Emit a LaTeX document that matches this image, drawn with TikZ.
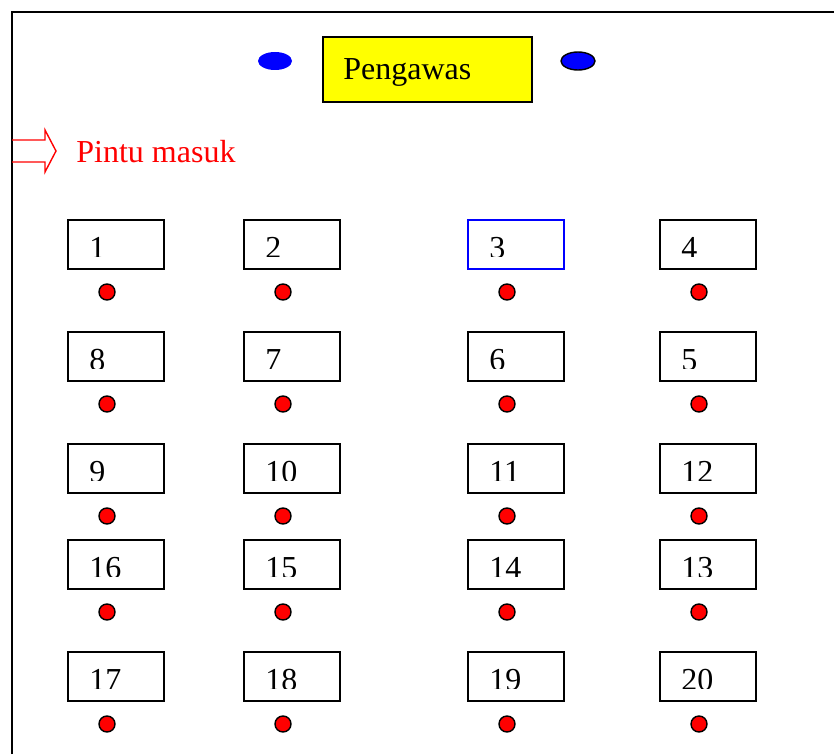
\documentclass[tikz,border=0pt]{standalone}
\usepackage{fontspec}
\setmainfont{Liberation Serif}
\usetikzlibrary{shapes.geometric}
\definecolor{pblue}{RGB}{0,0,255}
\definecolor{pred}{RGB}{255,0,0}
\definecolor{pyellow}{RGB}{255,255,0}
\tikzset{
  desk/.style={draw=black, line width=0.8pt, minimum width=48pt, minimum height=24.5pt, inner sep=0pt, anchor=north west},
  seat/.style={circle, draw=black, fill=pred, line width=0.7pt, minimum size=8pt, inner sep=0pt},
  num/.style={anchor=base west, inner sep=0pt, font=\fontsize{16}{19}\selectfont},
  lamp/.style={ellipse, fill=pblue, minimum width=17pt, minimum height=9pt, inner sep=0pt},
}
\begin{document}
\begin{tikzpicture}[x=0.5pt,y=-0.5pt]
\useasboundingbox (0,0) rectangle (834,754);
% border (top and left only)
\draw[line width=1pt] (12,754) -- (12,12) -- (834,12);
% supervisor
\node[lamp] (l1) at (275,61) {};
\node[lamp, draw=black, line width=0.7pt] (l2) at (578,61) {};
\node[draw=black, fill=pyellow, line width=0.8pt, minimum width=104.5pt, minimum height=32.5pt, inner sep=0pt, anchor=north west] (pg) at (322,36) {};
\node[num, anchor=base west] (pgt) at (343,80) {Pengawas};
% entrance
\draw[pred, line width=0.7pt] (12,140) -- (45,140) -- (45,130) -- (56,151) -- (45,172) -- (45,162) -- (12,162);
\node[num, text=pred] (pm) at (76,163) {Pintu masuk};
% desks
\foreach \i/\x/\y in {1/67/219,2/243/219,3/467/219,4/659/219,
                      8/67/331,7/243/331,6/467/331,5/659/331,
                      9/67/443,10/243/443,11/467/443,12/659/443,
                      16/67/539,15/243/539,14/467/539,13/659/539,
                      17/67/651,18/243/651,19/467/651,20/659/651}{
  \ifnum\i=3
    \node[desk, draw=pblue] (d\i) at (\x,\y) {};
  \else
    \node[desk] (d\i) at (\x,\y) {};
  \fi
  \begin{scope}
    \clip (\x,\y) rectangle ({\x+96},{\y+37.5});
    \node[num] (t\i) at ({\x+22},{\y+39}) {\i};
  \end{scope}
  \node[seat] (p\i) at ({\x+40},{\y+73}) {};
}
\end{tikzpicture}
\end{document}
